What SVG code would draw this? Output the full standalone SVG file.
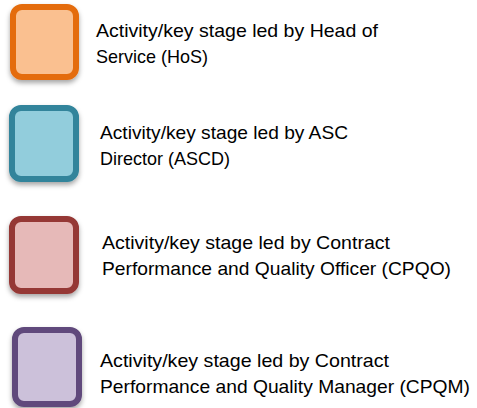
<svg xmlns="http://www.w3.org/2000/svg" width="477" height="408" viewBox="0 0 477 408">
<defs>
<filter id="sh" x="-20%" y="-20%" width="140%" height="150%">
<feDropShadow dx="0" dy="3" stdDeviation="2.5" flood-color="#000" flood-opacity="0.35"/>
</filter>
</defs>
<style>
.box{stroke-width:6;filter:url(#sh)}
.lbl{font-family:"Liberation Sans",Arial,sans-serif;font-size:19px;fill:#000}
</style>
<rect width="477" height="408" fill="#fff"/>
<g id="hos">
<rect class="box" x="13" y="7" width="63" height="70" rx="9" fill="#FAC090" stroke="#E46C0A"/>
<text class="lbl" x="96" y="37" textLength="282" lengthAdjust="spacingAndGlyphs">Activity/key stage led by Head of</text>
<text class="lbl" x="96" y="63" textLength="112" lengthAdjust="spacingAndGlyphs">Service (HoS)</text>
</g>
<g id="ascd">
<rect class="box" x="12" y="108" width="64" height="71" rx="9" fill="#92CDDC" stroke="#31849B"/>
<text class="lbl" x="100" y="139" textLength="248" lengthAdjust="spacingAndGlyphs">Activity/key stage led by ASC</text>
<text class="lbl" x="100" y="165" textLength="130" lengthAdjust="spacingAndGlyphs">Director (ASCD)</text>
</g>
<g id="cpqo">
<rect class="box" x="12" y="219" width="64" height="72" rx="9" fill="#E6B9B8" stroke="#953735"/>
<text class="lbl" x="102" y="249" textLength="288" lengthAdjust="spacingAndGlyphs">Activity/key stage led by Contract</text>
<text class="lbl" x="102" y="275" textLength="349" lengthAdjust="spacingAndGlyphs">Performance and Quality Officer (CPQO)</text>
</g>
<g id="cpqm">
<rect class="box" x="15" y="330" width="64" height="74" rx="9" fill="#CCC1DA" stroke="#604A7B"/>
<text class="lbl" x="100" y="367" textLength="289" lengthAdjust="spacingAndGlyphs">Activity/key stage led by Contract</text>
<text class="lbl" x="100" y="393" textLength="370" lengthAdjust="spacingAndGlyphs">Performance and Quality Manager (CPQM)</text>
</g>
<g id="connectors"/>
</svg>
